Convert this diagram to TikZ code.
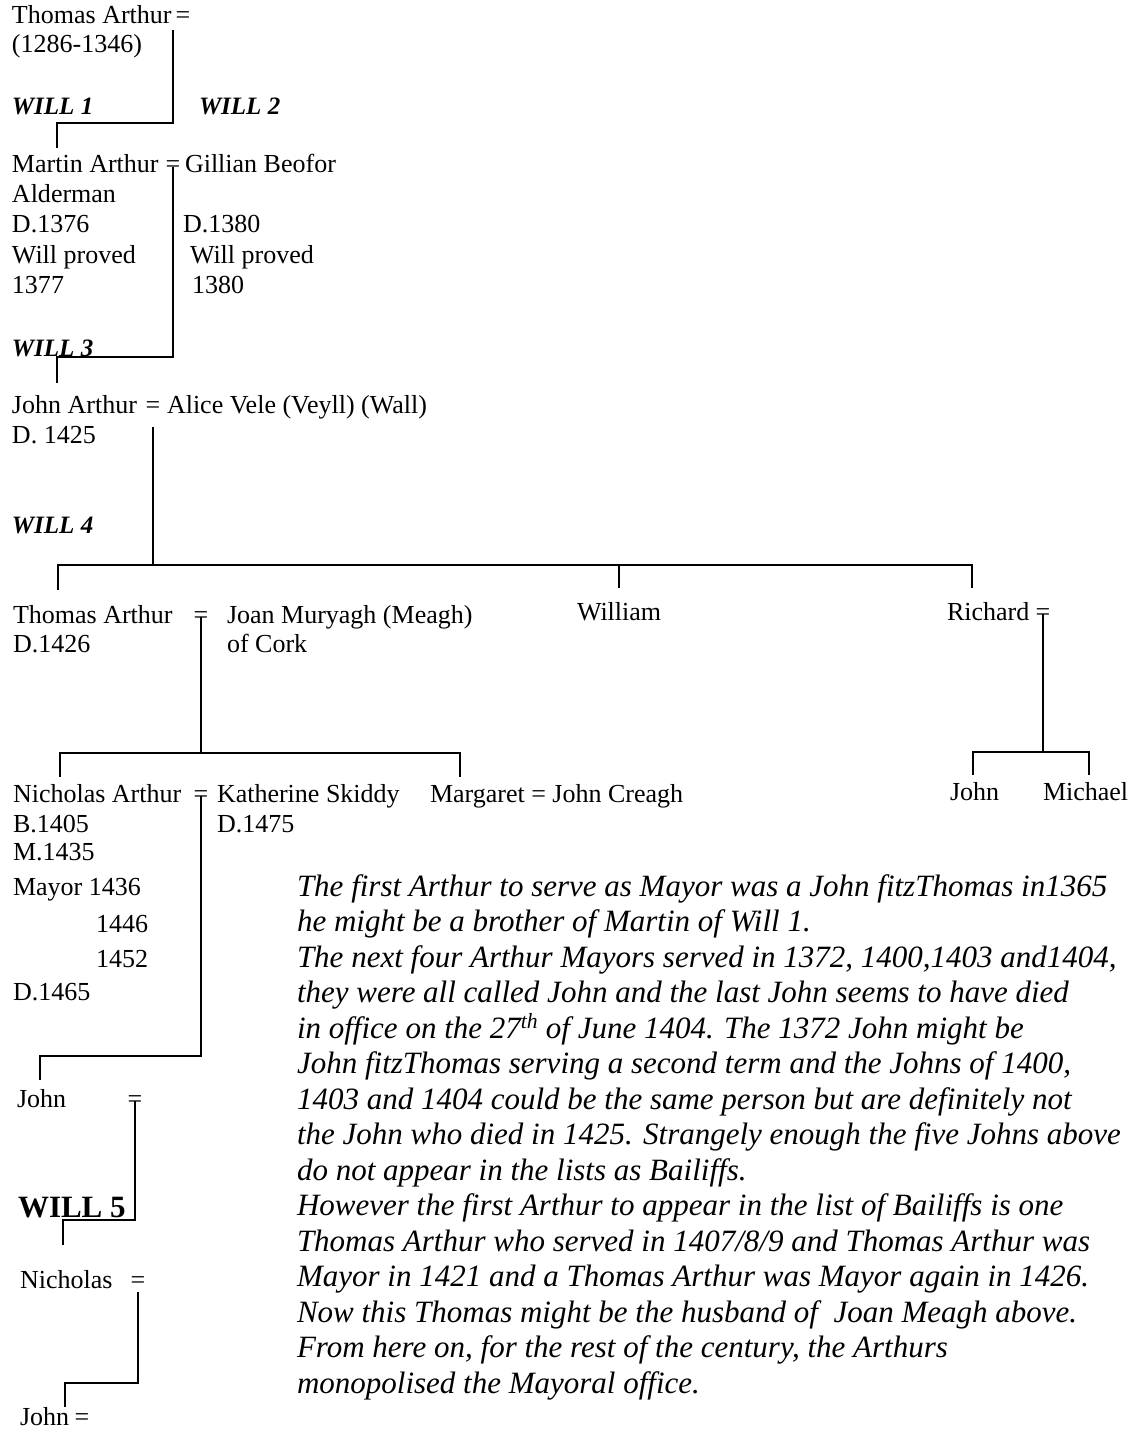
\documentclass[tikz,border=0pt]{standalone}
\usepackage{fontspec}
\setmainfont{Liberation Serif}
\usetikzlibrary{calc}
\newcommand\rmsz{\fontsize{26}{30}\selectfont}
\newcommand\itsz{\fontsize{31}{36}\selectfont\itshape}
\newcommand\bisz{\fontsize{25}{30}\selectfont\bfseries\itshape}
\newcommand\bsz{\fontsize{31}{36}\selectfont\bfseries}
\begin{document}
\begin{tikzpicture}[x=1pt,y=-1pt,
  txt/.style={anchor=base west,inner sep=0pt,outer sep=0pt,font=\rmsz,text height=18pt,text depth=6pt},
  eqs/.style={anchor=base,inner sep=0pt,outer sep=0pt,font=\rmsz},
  will/.style={anchor=base west,inner sep=0pt,outer sep=0pt,font=\bisz},
  willb/.style={anchor=base west,inner sep=0pt,outer sep=0pt,font=\bsz},
  note/.style={anchor=base west,inner sep=0pt,outer sep=0pt,font=\itsz},
  ln/.style={line width=1.6pt}]
\useasboundingbox[fill=white] (0,0) rectangle (1135,1431);

% generation 1
\node[txt] (t1) at (12,24) {Thomas Arthur};
\node[eqs] (e1) at (183,24) {=};
\node[txt] (t1d) at (12,53) {(1286-1346)};
\node[will] (w1) at (12,115) {WILL 1};
\node[will] (w2) at (199,115) {WILL 2};

% generation 2
\node[txt] (m) at (12,173) {Martin Arthur};
\node[eqs] (e2) at (173,173) {=};
\node[txt] (g) at (185,173) {Gillian Beofor};
\node[txt] (m1) at (12,203) {Alderman};
\node[txt] (m2) at (12,233) {D.1376};
\node[txt] (m3) at (12,263) {Will proved};
\node[txt] (m4) at (12,293) {1377};
\node[txt] (g2) at (183,233) {D.1380};
\node[txt] (g3) at (190,263) {Will proved};
\node[txt] (g4) at (192,293) {1380};
\node[will] (w3) at (12,356) {WILL 3};

% generation 3
\node[txt] (j) at (12,413) {John Arthur};
\node[eqs] (e3) at (153,413) {=};
\node[txt] (al) at (167,413) {Alice Vele (Veyll) (Wall)};
\node[txt] (j1) at (12,443) {D. 1425};
\node[will] (w4) at (12,533) {WILL 4};

% generation 4
\node[txt] (th) at (13,623) {Thomas Arthur};
\node[eqs] (e4) at (201,623) {=};
\node[txt] (jo) at (227,623) {Joan Muryagh (Meagh)};
\node[txt] (th2) at (13,652) {D.1426};
\node[txt] (jo2) at (227,652) {of Cork};
\node[txt] (wi) at (577,620) {William};
\node[txt] (ri) at (947,620) {Richard};
\node[eqs] (e5) at (1043,620) {=};
\node[txt] (rj) at (950,800) {John};
\node[txt] (rm) at (1043,800) {Michael};

% generation 5
\node[txt] (ni) at (13,802) {Nicholas Arthur};
\node[eqs] (e6) at (201,802) {=};
\node[txt] (ka) at (217,802) {Katherine Skiddy};
\node[txt] (ka2) at (217,832) {D.1475};
\node[txt] (ma) at (430,802) {Margaret = John Creagh};
\node[txt] (n1) at (13,832) {B.1405};
\node[txt] (n2) at (13,860) {M.1435};
\node[txt] (n3) at (13,895) {Mayor 1436};
\node[txt] (n4) at (96,932) {1446};
\node[txt] (n5) at (96,967) {1452};
\node[txt] (n6) at (13,1000) {D.1465};

% generations 6-8
\node[txt] (jn) at (17,1107) {John};
\node[eqs] (e7) at (135,1107) {=};
\node[willb] (w5) at (18,1217) {WILL 5};
\node[txt] (nc) at (20,1288) {Nicholas};
\node[eqs] (e8) at (138,1288) {=};
\node[txt] (jl) at (20,1425) {John};
\node[eqs] (e9) at (82,1425) {=};

% note
\foreach \t [count=\i from 0] in {
  {The first Arthur to serve as Mayor was a John fitzThomas in1365},
  {he might be a brother of Martin of Will 1.},
  {The next four Arthur Mayors served in 1372, 1400,1403 and1404,},
  {they were all called John and the last John seems to have died},
  {in office on the 27\textsuperscript{th} of June 1404. The 1372 John might be},
  {John fitzThomas serving a second term and the Johns of 1400,},
  {1403 and 1404 could be the same person but are definitely not},
  {the John who died in 1425. Strangely enough the five Johns above},
  {do not appear in the lists as Bailiffs.},
  {However the first Arthur to appear in the list of Bailiffs is one},
  {Thomas Arthur who served in 1407/8/9 and Thomas Arthur was},
  {Mayor in 1421 and a Thomas Arthur was Mayor again in 1426.},
  {Now this Thomas might be the husband of\ \ Joan Meagh above.},
  {From here on, for the rest of the century, the Arthurs},
  {monopolised the Mayoral office.}}
  \node[note] (p\i) at (297,{896+35.5*\i}) {\t};

% connectors
\coordinate (k1) at (57,123);
\draw[ln] ($(e1.south)+(-10,6)$) |- (k1) -- ($(k1 |- m.north)+(0,-7)$);

\coordinate (k2) at (57,357);
\draw[ln] (e2.center) |- (k2) -- ($(k2 |- j.north)+(0,-12)$);

\coordinate (h1) at (58,565);
\coordinate (h2) at (972,565);
\draw[ln] ($(e3.south)+(0,14)$) -- (e3.south |- h1);
\draw[ln] ($(h1 |- th.north)+(0,-15)$) -- (h1) -- (h2) -- ($(h2 |- ri.north)+(0,-14)$);
\draw[ln] (h1 -| wi.north) -- ($(wi.north)+(0,-14)$);

\coordinate (h3) at (60,753);
\coordinate (h4) at (460,753);
\draw[ln] (e4.center) -- (e4.center |- h3);
\draw[ln] ($(h3 |- ni.north)+(0,-7)$) -- (h3) -- (h4) -- ($(h4 |- ma.north)+(0,-7)$);

\coordinate (h5) at (973,752);
\coordinate (h6) at (1089,752);
\draw[ln] (e5.center) -- (e5.center |- h5);
\draw[ln] ($(h5 |- rj.north)+(0,-7)$) -- (h5) -- (h6) -- ($(h6 |- rm.north)+(0,-7)$);

\coordinate (k6) at (40,1056);
\draw[ln] (e6.center) |- (k6) -- ($(k6 |- jn.north)+(0,-9)$);

\coordinate (k7) at (63,1220);
\draw[ln] (e7.center) |- (k7) -- ($(k7 |- nc.north)+(0,-25)$);

\coordinate (k8) at (65,1383);
\draw[ln] ($(e8.south)+(0,4)$) |- (k8) -- (k8 |- jl.north);
\end{tikzpicture}
\end{document}
